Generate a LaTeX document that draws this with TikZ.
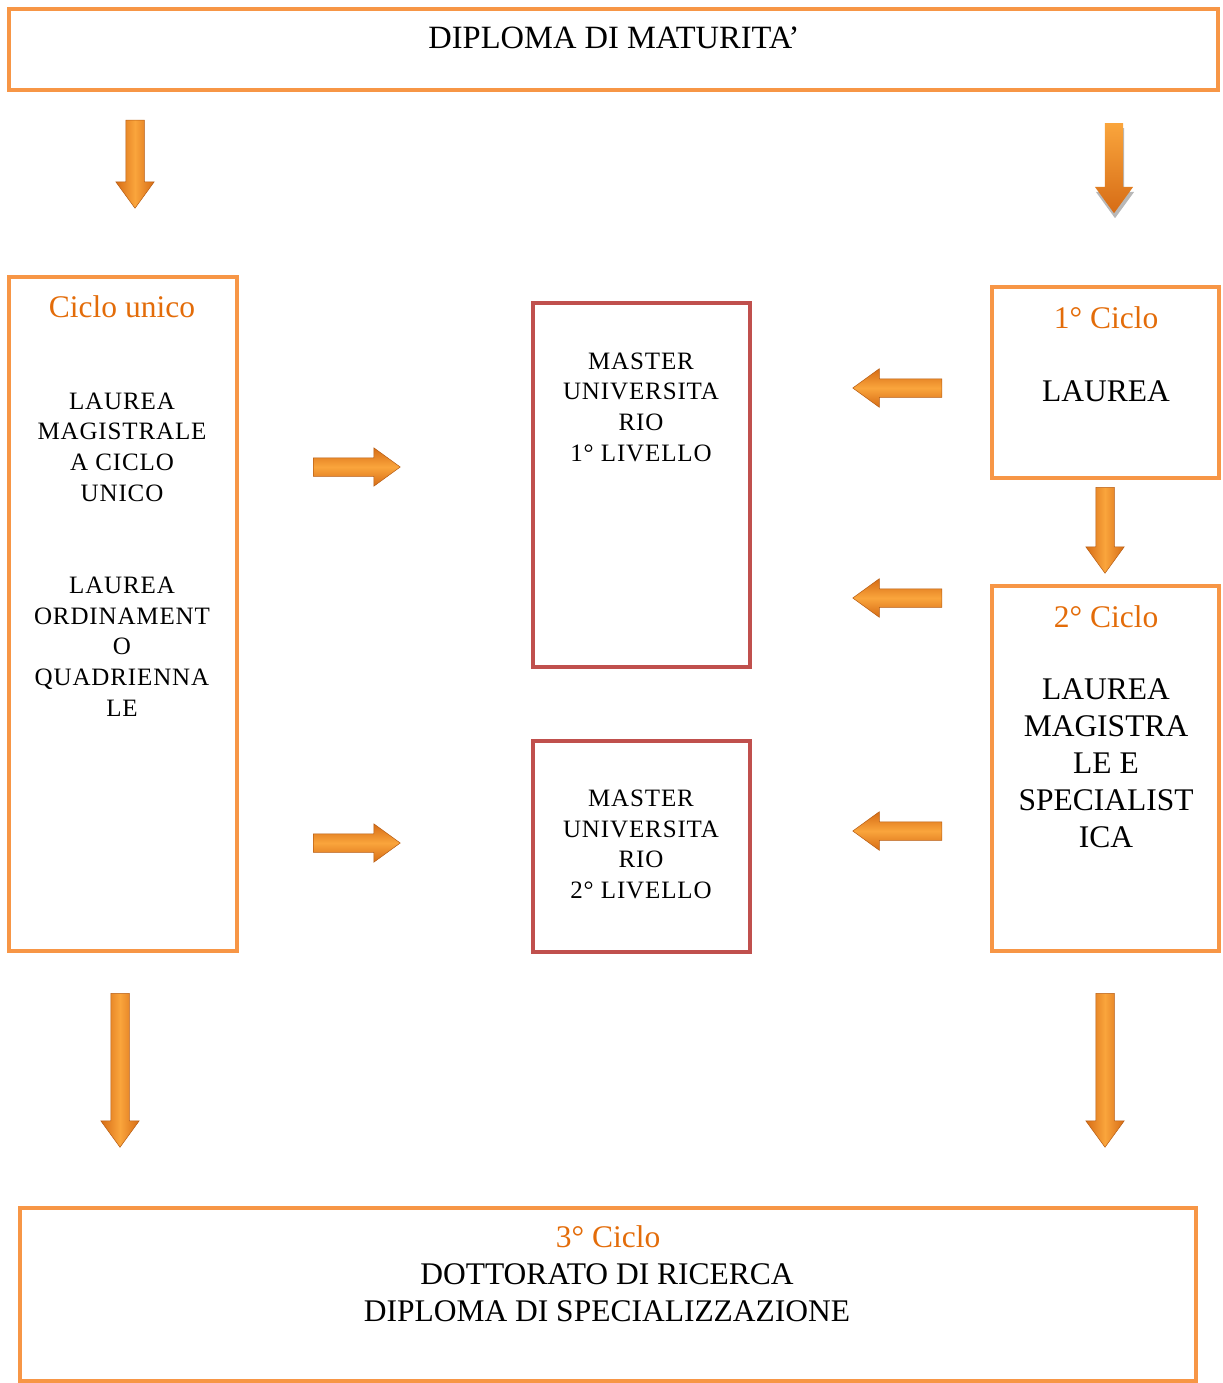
\documentclass[tikz,border=0pt]{standalone}
\usepackage{fontspec}
\setmainfont{Liberation Serif}
\newfontfamily\spacedfont[LetterSpace=3.5]{Liberation Serif}
\usepackage{tikz}
\usetikzlibrary{shapes.arrows,shadows}
\definecolor{boxorange}{RGB}{247,150,70}
\definecolor{masterred}{RGB}{192,80,77}
\definecolor{titleorange}{RGB}{227,108,9}
\definecolor{arrlight}{RGB}{250,165,60}
\definecolor{arrdark}{RGB}{214,108,22}

\begin{document}
\begin{tikzpicture}[x=1bp,y=-1bp,
		obox/.style={draw=boxorange,line width=4bp,inner sep=0},
		rbox/.style={draw=masterred,line width=4bp,inner sep=0},
		bigtxt/.style={font=\fontsize{31.5bp}{37bp}\selectfont,align=center,inner sep=0},
		smalltxt/.style={font=\spacedfont\fontsize{25bp}{30.7bp}\selectfont,align=center,inner sep=0},
		titletxt/.style={font=\fontsize{31.5bp}{37bp}\selectfont,text=titleorange,inner sep=0},
		arrbase/.style={single arrow,anchor=tail,minimum height=#1,inner xsep=0,inner ysep=9bp,
			single arrow head extend=10bp,single arrow tip angle=72},
		harr/.style={arrbase=#1,top color=arrdark,bottom color=arrdark,middle color=arrlight,
			draw=arrdark!85!black,line width=0.5bp},
		varr/.style={arrbase=#1,rotate=-90,left color=arrdark,right color=arrdark,middle color=arrlight,
			draw=arrdark!85!black,line width=0.5bp},
		flatarr/.style={arrbase=#1,rotate=-90,top color=arrlight,bottom color=arrdark,
			drop shadow={shadow xshift=1bp,shadow yshift=-5bp,fill=gray!70,opacity=0.8}}]
		\useasboundingbox (0,0) rectangle (1222,1383);
		\node[obox,minimum width=1209bp,minimum height=81bp] (top) at (613.5,49.5) {};
		\node[obox,minimum width=228bp,minimum height=674bp] (ciclou) at (123,614) {};
		\node[rbox,minimum width=217bp,minimum height=364bp] (master1) at (641.5,485) {};
		\node[rbox,minimum width=217bp,minimum height=211bp] (master2) at (641.5,846.5) {};
		\node[obox,minimum width=227bp,minimum height=191bp] (laurea1) at (1105.5,382.5) {};
		\node[obox,minimum width=227bp,minimum height=365bp] (laurea2) at (1105.5,768.5) {};
		\node[obox,minimum width=1176bp,minimum height=173bp] (dott) at (608,1294.5) {};

		\node[bigtxt,font=\fontsize{32.5bp}{37bp}\selectfont] (toptxt) at (614,38) {DIPLOMA DI MATURITA’};
		\node[titletxt] (cutitle) at (122,307) {Ciclo unico};
		\node[smalltxt] (cutxt1) at (122,447) {LAUREA\\MAGISTRALE\\A CICLO\\UNICO};
		\node[smalltxt] (cutxt2) at (122,646.5) {LAUREA\\ORDINAMENT\\O\\QUADRIENNA\\LE};
		\node[smalltxt] (m1txt) at (641,407) {MASTER\\UNIVERSITA\\RIO\\1° LIVELLO};
		\node[smalltxt] (m2txt) at (641,844.5) {MASTER\\UNIVERSITA\\RIO\\2° LIVELLO};
		\node[titletxt] (l1title) at (1106,318) {1° Ciclo};
		\node[bigtxt] (l1txt) at (1106,391) {LAUREA};
		\node[titletxt] (l2title) at (1106,617) {2° Ciclo};
		\node[bigtxt] (l2txt) at (1106,763) {LAUREA\\MAGISTRA\\LE E\\SPECIALIST\\ICA};
		\node[titletxt] (dtitle) at (608,1237) {3° Ciclo};
		\node[bigtxt] (dtxt) at (607,1293) {DOTTORATO DI RICERCA\\DIPLOMA DI SPECIALIZZAZIONE};

		\node[varr=88bp] (dn1) at (135,120) {};
		\node[flatarr=90bp] (dn2) at (1114,123) {};
		\node[harr=87bp] (rt1) at (313,467) {};
		\node[harr=87bp] (rt2) at (313,843) {};
		\node[harr=89bp,rotate=180] (lf1) at (942,388) {};
		\node[harr=89bp,rotate=180] (lf2) at (942,598) {};
		\node[harr=89bp,rotate=180] (lf3) at (942,831) {};
		\node[varr=86bp] (dn3) at (1105,487) {};
		\node[varr=154bp] (dn4) at (120,993) {};
		\node[varr=154bp] (dn5) at (1105,993) {};
		\end{tikzpicture}
\end{document}
